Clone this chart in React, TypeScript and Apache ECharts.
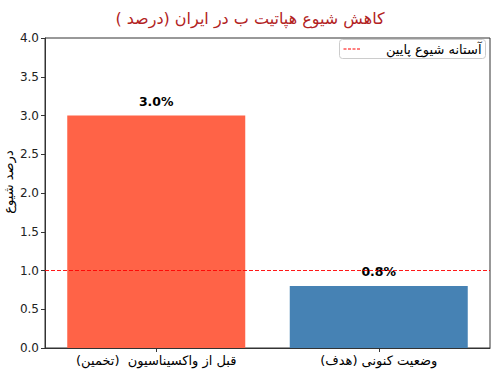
import React, { useEffect, useRef } from "react";
import * as echarts from "echarts";

const categories = ["قبل از واکسیناسیون  (تخمین)", "وضعیت کنونی (هدف)"];
const prevalence = [3.0, 0.8];
const barColors = ["#FF6347", "#4682B4"];
const thresholdValue = 1.0;
const thresholdName = "آستانه شیوع پایین";
const titleText = "کاهش شیوع هپاتیت ب در ایران (درصد )";
const yAxisName = "درصد شیوع";

const RLM = "\u200F";
const FONT = "DejaVu Sans";

export default function App() {
  const ref = useRef<HTMLDivElement>(null);
  useEffect(() => {
    if (!ref.current) return;
    const chart = echarts.init(ref.current, null, { renderer: "svg" });
    chart.setOption({
      animation: false,
      backgroundColor: "#ffffff",
      textStyle: { fontFamily: FONT },
      title: {
        text: titleText + RLM,
        left: "center",
        top: 5,
        textStyle: { color: "#b22222", fontSize: 16, fontWeight: "normal", fontFamily: FONT },
      },
      graphic: [
        {
          type: "group",
          left: 339,
          top: 39,
          children: [
            {
              type: "rect",
              shape: { x: 0, y: 0, width: 146, height: 19, r: 3 },
              style: { fill: "#ffffff", stroke: "#cccccc", lineWidth: 1 },
            },
            {
              type: "line",
              shape: { x1: 4, y1: 9.5, x2: 21, y2: 9.5 },
              style: { stroke: "#ff0000", lineWidth: 1, lineDash: [3, 1.5] },
            },
            {
              type: "text",
              x: 142,
              y: 9.5,
              style: {
                text: thresholdName,
                align: "right",
                verticalAlign: "middle",
                fontSize: 13,
                fontFamily: FONT,
                fill: "#000",
              },
            },
          ],
        },
      ],
      grid: {
        left: 45,
        right: 10,
        top: 38,
        bottom: 27,
        show: true,
        borderColor: "#333",
        borderWidth: 1,
        backgroundColor: "transparent",
        outerBoundsMode: "none",
        containLabel: false,
      },
      xAxis: {
        type: "category",
        data: categories,
        axisLine: { lineStyle: { color: "#333" } },
        axisTick: { show: true, alignWithLabel: true, length: 4, lineStyle: { color: "#333" } },
        axisLabel: {
          color: "#000",
          fontSize: 13,
          margin: 6,
          fontFamily: FONT,
          formatter: (v: string) => v + RLM,
        },
      },
      yAxis: {
        type: "value",
        min: 0,
        max: 4,
        interval: 0.5,
        name: yAxisName,
        nameLocation: "middle",
        nameGap: 30,
        nameMoveOverlap: false,
        nameTextStyle: { fontSize: 13, color: "#000", fontFamily: FONT, padding: [0, 0, 0, 22] },
        axisLine: { show: true, lineStyle: { color: "#333" } },
        axisTick: { show: true, length: 4, lineStyle: { color: "#333" } },
        axisLabel: {
          color: "#222",
          fontSize: 12,
          margin: 6,
          fontFamily: FONT,
          formatter: (v: number) => v.toFixed(1),
        },
        splitLine: { show: false },
      },
      series: [
        {
          type: "bar",
          name: "prevalence",
          barCategoryGap: "20%",
          data: prevalence.map((v, i) => ({ value: v, itemStyle: { color: barColors[i] } })),
          label: {
            show: true,
            position: "top",
            distance: 8,
            fontWeight: "bold",
            fontSize: 12.5,
            color: "#000",
            fontFamily: FONT,
            formatter: (p: any) => Number(p.value).toFixed(1) + "%",
          },
          markLine: {
            silent: true,
            symbol: "none",
            label: { show: false },
            lineStyle: { type: [4, 2], color: "#ff0000", width: 1, opacity: 0.9 },
            data: [{ yAxis: thresholdValue, name: thresholdName }],
          },
        },
      ],
    });
    return () => chart.dispose();
  }, []);
  return <div ref={ref} style={{ width: 500, height: 375, position: "absolute", left: 0, top: 0 }} />;
}
